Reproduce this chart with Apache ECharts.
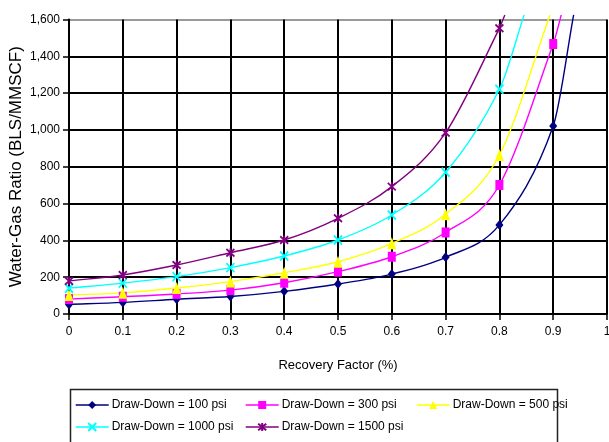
<!DOCTYPE html>
<html>
<head>
<meta charset="utf-8">
<script src="https://cdn.jsdelivr.net/npm/echarts@6/dist/echarts.min.js"></script>
<style>
  html, body { margin: 0; padding: 0; background: #fff; }
  #chart { width: 609px; height: 442px; }
</style>
</head>
<body>
<div id="chart"></div>
<script>
// Recovery factor at each measured point
const recovery = [0, 0.1, 0.2, 0.3, 0.4, 0.5, 0.6, 0.7, 0.8, 0.9];

// Water-gas ratio (BLS/MMSCF) per draw-down pressure
const dd100  = [52, 63, 80, 95, 123, 163, 217, 308, 484, 1021];
const dd300  = [81, 94, 109, 130, 170, 230, 311, 443, 701, 1467];
const dd500  = [103, 115, 141, 176, 224, 284, 384, 542, 864];
const dd1000 = [140, 168, 203, 252, 315, 402, 538, 770, 1221];
const dd1500 = [179, 212, 266, 333, 402, 520, 692, 985, 1552];

// Where each curve leaves the top of the chart (no marker there)
const tail100  = [0.938, 1625];
const tail300  = [0.915, 1625];
const tail500  = [0.894, 1625];
const tail1000 = [0.846, 1625];
const tail1500 = [0.810, 1625];

const seriesNames = [
  'Draw-Down = 100 psi',
  'Draw-Down = 300 psi',
  'Draw-Down = 500 psi',
  'Draw-Down = 1000 psi',
  'Draw-Down = 1500 psi'
];

// Axis ranges and tick steps
const yMin = 0, yMax = 1600, yStep = 200;
const xMin = 0, xMax = 1, xStep = 0.1;

const FONT = '"Liberation Sans", Arial, sans-serif';

const crossPath = 'path://M0,0L10,10M10,0L0,10';
const starPath  = 'path://M0,0L10,10M10,0L0,10M5,-1L5,11';

const styles = [
  { color: '#000080', symbol: 'diamond',  size: [8, 10], stroke: false },
  { color: '#ff00ff', symbol: 'rect',     size: [8, 10], stroke: false },
  { color: '#ffff00', symbol: 'triangle', size: [9, 12], stroke: false },
  { color: '#00ffff', symbol: crossPath,  size: [8, 9],  stroke: true  },
  { color: '#800080', symbol: starPath,   size: [8, 9],  stroke: true  }
];
const valueSets = [dd100, dd300, dd500, dd1000, dd1500];
const tails = [tail100, tail300, tail500, tail1000, tail1500];

function markerPoints(values) {
  return values.map((v, i) => [recovery[i], v]);
}

// Smooth curve through the points (cubic Hermite in screen space,
// tangents from neighbouring points), drawn via the axis scales.
function curveRenderer(points, color) {
  return function (params, api) {
    const p = points.map(d => api.coord(d));
    const n = p.length;
    const slope = [];
    for (let i = 0; i < n; i++) {
      const a = p[Math.max(0, i - 1)];
      const b = p[Math.min(n - 1, i + 1)];
      slope.push((b[1] - a[1]) / (b[0] - a[0]));
    }
    let d = 'M' + p[0][0] + ',' + p[0][1];
    for (let i = 0; i < n - 1; i++) {
      const h = (p[i + 1][0] - p[i][0]) / 3;
      const c1 = [p[i][0] + h, p[i][1] + slope[i] * h];
      const c2 = [p[i + 1][0] - h, p[i + 1][1] - slope[i + 1] * h];
      d += ' C' + c1[0] + ',' + c1[1] + ' ' + c2[0] + ',' + c2[1] + ' ' + p[i + 1][0] + ',' + p[i + 1][1];
    }
    return {
      type: 'path',
      shape: { pathData: d },
      style: { fill: 'none', stroke: color, lineWidth: 1.4 },
      silent: true
    };
  };
}

const curveSeries = valueSets.map((vals, k) => ({
  name: seriesNames[k] + ' curve',
  type: 'custom',
  coordinateSystem: 'cartesian2d',
  clip: false,
  silent: true,
  data: [[xMin, yMin]],
  renderItem: curveRenderer(markerPoints(vals).concat([tails[k]]), styles[k].color)
}));

const markerSeries = valueSets.map((vals, k) => ({
  name: seriesNames[k],
  type: 'line',
  data: markerPoints(vals),
  clip: false,
  symbol: styles[k].symbol,
  symbolSize: styles[k].size,
  showAllSymbol: true,
  lineStyle: { color: styles[k].color, width: 1.4, opacity: 0 },
  itemStyle: styles[k].stroke
    ? { color: styles[k].color, borderColor: styles[k].color, borderWidth: 1.8 }
    : { color: styles[k].color, borderWidth: 0 },
  emphasis: { disabled: true }
}));

// Legend laid out in fixed columns, two rows
const legendSlots = [
  { left: 75,  top: 399 },
  { left: 245, top: 399 },
  { left: 416, top: 399 },
  { left: 75,  top: 421 },
  { left: 245, top: 421 }
];
const legends = seriesNames.map((n, i) => ({
  data: [n],
  left: legendSlots[i].left,
  top: legendSlots[i].top,
  padding: 0,
  itemWidth: 33,
  itemHeight: 10,
  itemGap: 0,
  selectedMode: false,
  lineStyle: { color: styles[i].color, width: 1.4, opacity: 1 },
  textStyle: { fontFamily: FONT, fontSize: 12, color: '#000', padding: [0, 0, 0, -2] }
}));

const ySplitColors = [];
for (let v = yMin; v <= yMax; v += yStep) ySplitColors.push(v === yMax ? '#9a9a9a' : '#000');

const chart = echarts.init(document.getElementById('chart'), null, { renderer: 'canvas' });
chart.setOption({
  animation: false,
  backgroundColor: '#fff',
  grid: { left: 69, right: 2, top: 19.5, bottom: 128, containLabel: false, outerBoundsMode: 'none' },
  legend: legends,
  xAxis: {
    type: 'value',
    min: xMin, max: xMax, interval: xStep,
    name: 'Recovery Factor (%)',
    nameLocation: 'middle',
    nameGap: 45,
    nameMoveOverlap: false,
    nameTextStyle: { fontFamily: FONT, fontSize: 13, color: '#000' },
    axisLine: { show: true, lineStyle: { color: '#000', width: 2 } },
    axisTick: { show: true, length: 6, lineStyle: { color: '#000', width: 1.5 } },
    axisLabel: {
      margin: 12,
      fontFamily: FONT, fontSize: 12, color: '#000',
      formatter: v => String(Number(v.toFixed(1)))
    },
    splitLine: { show: true, lineStyle: { color: '#000', width: 2 } }
  },
  yAxis: {
    type: 'value',
    min: yMin, max: yMax, interval: yStep,
    name: 'Water-Gas Ratio (BLS/MMSCF)',
    nameLocation: 'middle',
    nameGap: 44,
    nameMoveOverlap: false,
    nameTextStyle: { fontFamily: FONT, fontSize: 17, color: '#000' },
    axisLine: { show: true, lineStyle: { color: '#000', width: 2 } },
    axisTick: { show: true, length: 6, lineStyle: { color: '#000', width: 1.5 } },
    axisLabel: {
      margin: 9,
      fontFamily: FONT, fontSize: 12, color: '#000',
      formatter: v => v.toLocaleString('en-US')
    },
    splitLine: { show: true, lineStyle: { color: ySplitColors, width: 2 } }
  },
  graphic: [{
    type: 'rect',
    z: -1,
    shape: { x: 70.5, y: 389.5, width: 487, height: 70 },
    style: { fill: '#fff', stroke: '#222', lineWidth: 1.5 }
  }],
  series: curveSeries.concat(markerSeries)
});
</script>
</body>
</html>
